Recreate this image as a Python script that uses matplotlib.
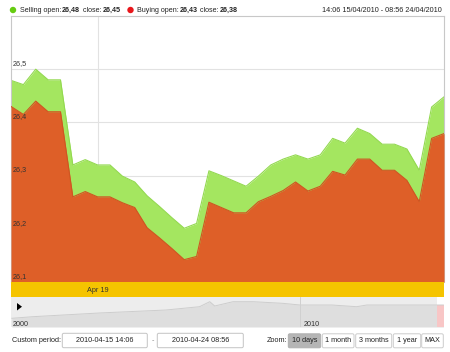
import matplotlib
matplotlib.use("Agg")
import matplotlib.pyplot as plt
from matplotlib.patches import FancyBboxPatch, Polygon
import numpy as np

plt.rcParams['font.family'] = ['Liberation Sans', 'DejaVu Sans']

# ---- data -------------------------------------------------------------
selling = [26.479, 26.471, 26.500, 26.480, 26.480, 26.320, 26.330, 26.320,
           26.320, 26.299, 26.288, 26.262, 26.242, 26.221, 26.201, 26.210,
           26.309, 26.300, 26.290, 26.280, 26.299, 26.320, 26.331, 26.339,
           26.331, 26.339, 26.370, 26.361, 26.389, 26.379, 26.359, 26.359,
           26.350, 26.310, 26.429, 26.448]
buying = [26.430, 26.415, 26.440, 26.420, 26.420, 26.260, 26.270, 26.260,
          26.260, 26.249, 26.240, 26.202, 26.183, 26.163, 26.142, 26.148,
          26.250, 26.240, 26.230, 26.230, 26.251, 26.261, 26.272, 26.288,
          26.271, 26.280, 26.308, 26.301, 26.331, 26.331, 26.310, 26.310,
          26.291, 26.251, 26.370, 26.379]
yticks = [26.1, 26.2, 26.3, 26.4, 26.5]
ytick_labels = ["26,1", "26,2", "26,3", "26,4", "26,5"]
date_tick_index = 7
date_tick_label = "Apr 19"

nav_years = [2000.0, 2000.72, 2003.0, 2005.3, 2006.45, 2006.8, 2006.97, 2007.6,
             2008.3, 2009.3, 2009.9, 2011.0, 2011.85, 2012.2, 2013.3, 2014.83]
nav_values = [8.7, 10.3, 14, 17, 20.3, 25.3, 21, 25.3, 25.3, 23.7, 22, 22,
              20.3, 22, 22, 22]
nav_ticks = [2000, 2010]

legend_sell = ["Selling open:", "26,48", " close:", "26,45"]
legend_buy = ["Buying open:", "26,43", " close:", "26,38"]
range_text = "14:06 15/04/2010 - 08:56 24/04/2010"
period_from = "2010-04-15 14:06"
period_to = "2010-04-24 08:56"
zoom_buttons = ["10 days", "1 month", "3 months", "1 year", "MAX"]

GREEN = '#a4e660'
GREEN_EDGE = '#93d950'
ORANGE = '#de5f28'
ORANGE_EDGE = '#cf5522'
FS = 5.2

W, H = 450, 352
fig = plt.figure(figsize=(W / 100, H / 100), dpi=100)
fig.patch.set_facecolor('white')


def fx(px):
    return px / W


def fy(py):
    return 1 - py / H


# ---- main chart -------------------------------------------------------
x = np.arange(len(selling))
ax = fig.add_axes([fx(11), fy(282), fx(444) - fx(11), fy(16) - fy(282)])
ax.set_xlim(0, len(selling) - 1)
ax.set_ylim(26.1, 26.6)
for t in yticks:
    ax.axhline(t, color='#e2e2e2', lw=0.8, zorder=0)
ax.axvline(date_tick_index, color='#e2e2e2', lw=0.8, zorder=0)
ax.fill_between(x, 26.1, selling, color=GREEN, lw=0, zorder=1)
ax.plot(x, selling, color=GREEN_EDGE, lw=0.8, zorder=2)
ax.fill_between(x, 26.1, buying, color=ORANGE, lw=0, zorder=3)
ax.plot(x, buying, color=ORANGE_EDGE, lw=0.8, zorder=4)
for t, lab in zip(yticks, ytick_labels):
    ax.text(0.12, t + 0.004, lab, fontsize=FS, color='#333333', ha='left',
            va='bottom', zorder=6)
ax.set_xticks([])
ax.set_yticks([])
for s in ['left', 'right', 'top']:
    ax.spines[s].set_color('#c8c8c8')
    ax.spines[s].set_linewidth(0.8)
ax.spines['bottom'].set_visible(False)

# ---- date band --------------------------------------------------------
band = fig.add_axes([fx(11), fy(297), fx(444) - fx(11), fy(282) - fy(297)])
band.set_xlim(0, len(selling) - 1)
band.set_ylim(0, 1)
band.set_facecolor('#f5c400')
band.text(date_tick_index, 0.45, date_tick_label, fontsize=FS, color='#333333',
          ha='center', va='center')
band.set_xticks([])
band.set_yticks([])
for s in band.spines.values():
    s.set_visible(False)

# ---- navigator --------------------------------------------------------
nav = fig.add_axes([fx(11), fy(327), fx(444) - fx(11), fy(297) - fy(327)])
nav.set_xlim(1999.97, 2014.85)
nav.set_ylim(0, 30)
nav.set_facecolor('#ededed')
nav.fill_between(nav_years, 0, nav_values, color='#dedede', lw=0)
nav.plot(nav_years, nav_values, color='#cdcdcd', lw=0.7)
nav.axvline(nav_ticks[1] - 0.1, color='#d0d0d0', lw=0.7)
for t in nav_ticks:
    nav.text(t + 0.02, 2.5, str(t), fontsize=FS, color='#333333', ha='left',
             va='center')
nav.axvspan(2014.6, 2014.85, ymin=0, ymax=22 / 30, color='#f8c6c6', lw=0)
nav.axvspan(2014.6, 2014.85, ymin=22 / 30, ymax=1, color='white', lw=0)
nav.set_xticks([])
nav.set_yticks([])
for s in nav.spines.values():
    s.set_visible(False)

# ---- overlay in pixel coordinates -----------------------------------
ov = fig.add_axes([0, 0, 1, 1], zorder=10)
ov.set_xlim(0, W)
ov.set_ylim(H, 0)
ov.axis('off')
ov.patch.set_alpha(0)

# play triangle
ov.add_patch(Polygon([[17, 303], [17, 310.5], [22, 306.7]], closed=True,
                     color='black', lw=0))

# legend row (pieces chained by measured width)
renderer = fig.canvas.get_renderer()
ov.add_patch(plt.Circle((13, 10), 3.2, color='#66cc11', lw=0))
ov.add_patch(plt.Circle((130.5, 10), 3.2, color='#e8161b', lw=0))
inv = ov.transData.inverted()
for x_start, parts in ((20, legend_sell), (136.7, legend_buy)):
    xp = x_start
    for i, txt in enumerate(parts):
        t = ov.text(xp, 10, txt, fontsize=5.15, color='#222222', ha='left',
                    va='center', fontweight='bold' if i % 2 == 1 else 'normal')
        bb = t.get_window_extent(renderer=renderer)
        x1 = inv.transform((bb.x1, bb.y0))[0]
        xp = x1 + 0.8
ov.text(442, 10, range_text, fontsize=FS, color='#222222', ha='right',
        va='center')

# custom period
ov.text(11.5, 340.5, "Custom period:", fontsize=FS, color='#222222',
        ha='left', va='center')
for (x0, x1), txt in (((62.3, 147.3), period_from), ((157.3, 243.3), period_to)):
    ov.add_patch(FancyBboxPatch((x0, 333.3), x1 - x0, 14.4,
                                boxstyle='round,pad=0,rounding_size=1.5',
                                fc='white', ec='#c4c4c4', lw=0.7))
    ov.text((x0 + x1) / 2, 340.5, txt, fontsize=FS, color='#222222',
            ha='center', va='center')
ov.text(152.7, 340.5, "-", fontsize=FS, color='#888888', ha='center',
        va='center')

# zoom buttons
ov.text(266.7, 340.5, "Zoom:", fontsize=FS, color='#222222', ha='left',
        va='center')
btn_x = [(288.3, 320.7), (322.3, 354), (355.7, 391.7), (393.3, 420.7),
         (421.7, 443.3)]
for i, ((x0, x1), lab) in enumerate(zip(btn_x, zoom_buttons)):
    ov.add_patch(FancyBboxPatch((x0, 333.8), x1 - x0, 14,
                                boxstyle='round,pad=0,rounding_size=1.5',
                                fc='#b5b5b5' if i == 0 else 'white',
                                ec='#b0b0b0' if i == 0 else '#cccccc',
                                lw=0.7))
    ov.text((x0 + x1) / 2, 340.8, lab, fontsize=FS, color='#222222',
            ha='center', va='center')

fig.savefig('out.png', dpi=100, facecolor='white')
